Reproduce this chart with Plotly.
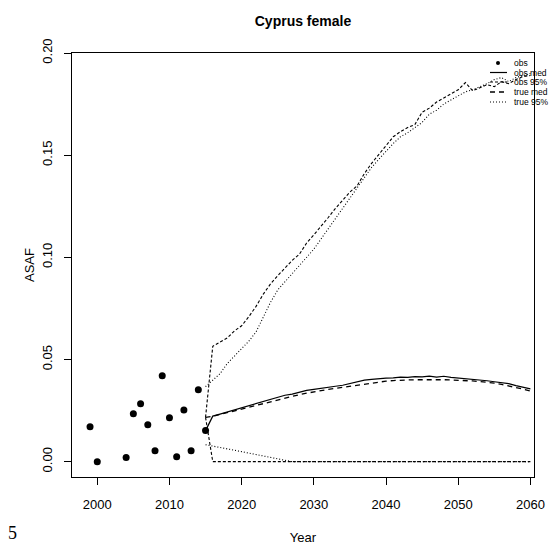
import plotly.graph_objects as go

# ---------------- data ----------------
obs_years = [1999, 2000, 2004, 2005, 2006, 2007, 2008, 2009, 2010, 2011, 2012, 2013, 2014, 2015]
obs_vals = [0.0171, 0.0000, 0.0020, 0.0235, 0.0284, 0.0181, 0.0054, 0.0421, 0.0215, 0.0024,
            0.0253, 0.0054, 0.0352, 0.0152]

proj_years = list(range(2015, 2061))

obs_med = [0.0152, 0.0223, 0.0233, 0.0243, 0.0254, 0.0264, 0.0274, 0.0285, 0.0295, 0.0305,
           0.0315, 0.0325, 0.0331, 0.0340, 0.0349, 0.0354, 0.0358, 0.0364, 0.0369, 0.0374,
           0.0382, 0.0392, 0.0399, 0.0403, 0.0407, 0.0409, 0.0410, 0.0414, 0.0413, 0.0416,
           0.0415, 0.0419, 0.0414, 0.0418, 0.0413, 0.0410, 0.0407, 0.0404, 0.0400, 0.0396,
           0.0391, 0.0387, 0.0382, 0.0372, 0.0364, 0.0356]

true_med = [0.0217, 0.0222, 0.0231, 0.0240, 0.0249, 0.0258, 0.0267, 0.0276, 0.0285, 0.0294,
            0.0303, 0.0312, 0.0320, 0.0328, 0.0335, 0.0342, 0.0348, 0.0354, 0.0359, 0.0364,
            0.0370, 0.0376, 0.0382, 0.0387, 0.0391, 0.0394, 0.0397, 0.0399, 0.0400, 0.0401,
            0.0401, 0.0402, 0.0401, 0.0401, 0.0400, 0.0399, 0.0397, 0.0395, 0.0392, 0.0389,
            0.0384, 0.0378, 0.0371, 0.0364, 0.0355, 0.0346]

obs_hi = [0.0217, 0.0565, 0.0585, 0.0605, 0.0640, 0.0665, 0.0710, 0.0760, 0.0820, 0.0870,
          0.0910, 0.0950, 0.0985, 0.1015, 0.1070, 0.1110, 0.1150, 0.1195, 0.1240, 0.1280,
          0.1320, 0.1350, 0.1410, 0.1460, 0.1505, 0.1550, 0.1590, 0.1615, 0.1635, 0.1650,
          0.1710, 0.1730, 0.1760, 0.1780, 0.1800, 0.1820, 0.1855, 0.1815, 0.1830, 0.1845,
          0.1835, 0.1860, 0.1850, 0.1870, 0.1885, 0.1890]

obs_lo = [0.0217] + [0.0] * 45

true_hi = [0.0367, 0.0400, 0.0430, 0.0480, 0.0515, 0.0550, 0.0590, 0.0635, 0.0710, 0.0780,
           0.0840, 0.0880, 0.0920, 0.0955, 0.1000, 0.1040, 0.1090, 0.1140, 0.1190, 0.1240,
           0.1290, 0.1340, 0.1390, 0.1440, 0.1480, 0.1520, 0.1557, 0.1590, 0.1610, 0.1635,
           0.1660, 0.1700, 0.1720, 0.1750, 0.1770, 0.1790, 0.1810, 0.1820, 0.1834, 0.1850,
           0.1870, 0.1880, 0.1860, 0.1880, 0.1890, 0.1900]

true_lo = [0.0083, 0.0077, 0.0070, 0.0063, 0.0056, 0.0049, 0.0042, 0.0035, 0.0028, 0.0021,
           0.0014, 0.0007] + [0.0] * 34

x_ticks = [2000, 2010, 2020, 2030, 2040, 2050, 2060]
y_ticks = [0.00, 0.05, 0.10, 0.15, 0.20]
y_ticklabels = ["0.00", "0.05", "0.10", "0.15", "0.20"]

legend_labels = ["obs", "obs med", "obs 95%", "true med", "true 95%"]

# ---------------- styles ----------------
FONT = "Liberation Sans, Arial, Helvetica, sans-serif"
DASH_OBS95 = "3px,2px"
DASH_TMED = "5px,4px"
DASH_T95 = "1px,2px"

fig = go.Figure()

fig.add_trace(go.Scatter(x=obs_years, y=obs_vals, mode="markers",
                         marker=dict(color="black", size=7), showlegend=False))

line_specs = [
    (obs_med, dict(color="black", width=1.2, dash="solid")),
    (obs_hi, dict(color="black", width=1.1, dash=DASH_OBS95)),
    (obs_lo, dict(color="black", width=1.1, dash=DASH_OBS95)),
    (true_med, dict(color="black", width=1.3, dash=DASH_TMED)),
    (true_hi, dict(color="black", width=1.1, dash=DASH_T95)),
    (true_lo, dict(color="black", width=1.1, dash=DASH_T95)),
]
for vals, ln in line_specs:
    fig.add_trace(go.Scatter(x=proj_years, y=vals, mode="lines", line=ln,
                             showlegend=False, hoverinfo="skip"))

# ---------------- layout ----------------
W, H = 551, 546
ML, MR, MT, MB = 72, 17, 53, 69
PW, PH = W - ML - MR, H - MT - MB


def px2paper(px, py):
    return (px - ML) / PW, (H - MB - py) / PH


fig.update_layout(
    width=W, height=H,
    margin=dict(l=ML, r=MR, t=MT, b=MB, autoexpand=False),
    paper_bgcolor="white", plot_bgcolor="white",
    font=dict(family=FONT, color="black", size=13),
    showlegend=False,
    title=dict(text="<b>Cyprus female</b>", x=0.5 * (ML + W - MR) / W, xanchor="center",
               y=1 - 21 / H, yanchor="middle", font=dict(size=14, family=FONT)),
)

fig.update_xaxes(
    range=[1996.5, 2060.5], tickvals=x_ticks, ticks="outside", ticklen=7,
    tickcolor="black", showline=True, linecolor="black", linewidth=1, mirror=True,
    showgrid=False, zeroline=False, tickfont=dict(size=13), ticklabelstandoff=8,
    title=dict(text="Year", font=dict(size=13), standoff=22),
)
fig.update_yaxes(
    range=[-0.0075, 0.2], tickvals=y_ticks, ticktext=y_ticklabels, ticks="outside",
    ticklen=7, tickcolor="black", showline=True, linecolor="black", linewidth=1,
    mirror=True, showgrid=False, zeroline=False, tickangle=-90,
    tickfont=dict(size=13), ticklabelstandoff=7,
    title=dict(text="ASAF", font=dict(size=13), standoff=2),
)

# ---------------- manual legend (R style, no box) ----------------
legend_y = [63, 72.5, 82, 92, 102]
sample_x0, sample_x1, text_x = 490, 507, 512
legend_dash = [None, "solid", DASH_OBS95, DASH_TMED, DASH_T95]
legend_w = [None, 1.2, 1.1, 1.3, 1.1]
for lab, ly, dsh, lw in zip(legend_labels, legend_y, legend_dash, legend_w):
    tx, ty = px2paper(text_x, ly)
    fig.add_annotation(x=tx, y=ty, xref="paper", yref="paper", text=lab, showarrow=False,
                       xanchor="left", yanchor="middle", font=dict(size=8.5, family=FONT))
    if dsh is None:
        cx, cy = px2paper(498, ly)
        fig.add_shape(type="circle", xref="paper", yref="paper", xsizemode="pixel",
                      ysizemode="pixel", xanchor=cx, yanchor=cy, x0=-2, x1=2, y0=-2, y1=2,
                      fillcolor="black", line=dict(color="black", width=0))
    else:
        a = px2paper(sample_x0, ly)
        b = px2paper(sample_x1, ly)
        fig.add_shape(type="line", xref="paper", yref="paper", x0=a[0], y0=a[1],
                      x1=b[0], y1=b[1], line=dict(color="black", width=lw, dash=dsh))

# page-number artifact in the bottom-left corner
px5, py5 = px2paper(12, 533)
fig.add_annotation(x=px5, y=py5, xref="paper", yref="paper", text="5",
                   showarrow=False, xanchor="center", yanchor="middle",
                   font=dict(size=18, family="Liberation Serif"))

fig.write_html("out.html", config={"displayModeBar": False},
               post_script="document.body.style.margin='0';document.body.style.padding='0';")
